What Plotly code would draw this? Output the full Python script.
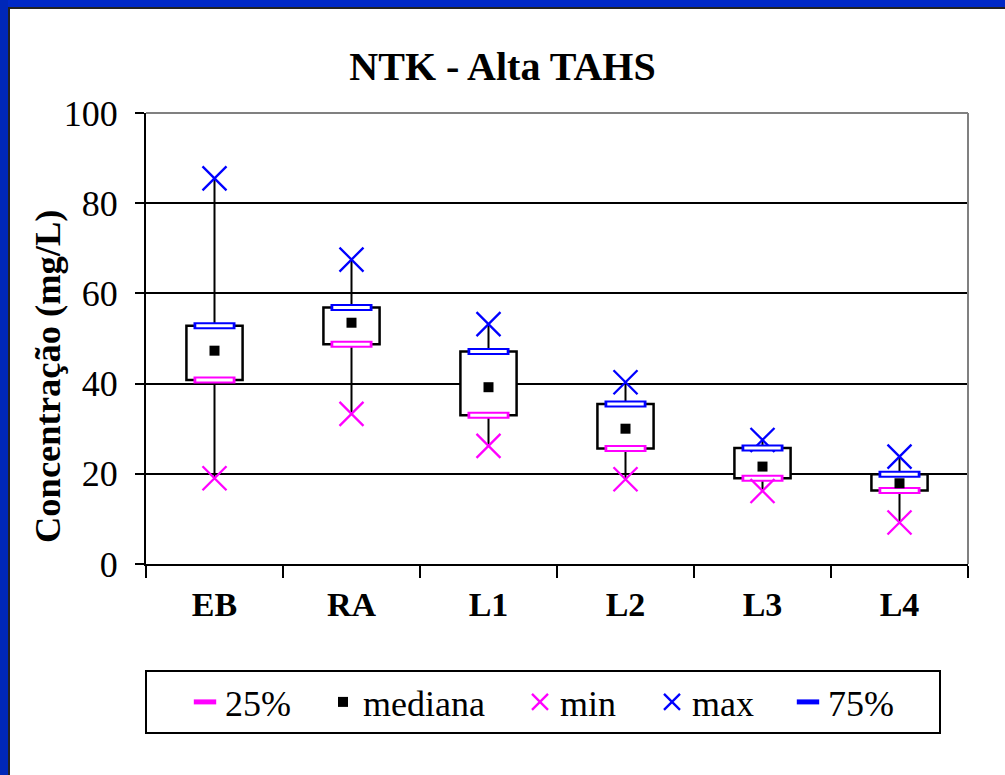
import plotly.graph_objects as go

# Nitrogen (NTK) summary statistics per sampling point
categories = ["EB", "RA", "L1", "L2", "L3", "L4"]
v_min = [19.0, 33.3, 26.2, 18.8, 16.2, 9.2]
q25 = [40.8, 48.7, 33.0, 25.6, 19.0, 16.3]
median = [47.3, 53.5, 39.2, 30.0, 21.6, 17.9]
q75 = [52.8, 56.9, 47.1, 35.5, 25.7, 19.9]
v_max = [85.5, 67.5, 53.2, 40.3, 27.5, 23.8]
y_ticks = [0, 20, 40, 60, 80, 100]

W_PX, H_PX = 1005, 775
L, R, T, B = 146, 37, 113, 211
PW, PH = W_PX - L - R, H_PX - T - B


def px_x(px):
    return (px - L) / PW


def px_y(py):
    return (H_PX - B - py) / PH


SERIF = "Liberation Serif"
BLUE = "#0000FF"
MAGENTA = "#FF00FF"

fig = go.Figure()

# Boxes spanning the interquartile range
fig.add_trace(go.Bar(
    x=categories, y=[b - a for a, b in zip(q25, q75)], base=q25,
    width=0.41, marker=dict(color="white", line=dict(color="black", width=2.5)),
    showlegend=False, hoverinfo="skip"))

# Whiskers: min -> q25 and q75 -> max
wx, wy = [], []
for c, lo, a, b, hi in zip(categories, v_min, q25, q75, v_max):
    wx += [c, c, None, c, c, None]
    wy += [lo, a, None, b, hi, None]
fig.add_trace(go.Scatter(x=wx, y=wy, mode="lines", line=dict(color="black", width=2),
                         showlegend=False, hoverinfo="skip"))


# Percentile markers drawn as hollow bars
def hollow_bar(yvals, color, name, lw):
    fig.add_trace(go.Scatter(
        x=categories, y=yvals, mode="markers", name=name, legendwidth=lw,
        marker=dict(symbol="line-ew", size=30, color=color,
                    line=dict(color=color, width=7))))
    fig.add_trace(go.Scatter(
        x=categories, y=yvals, mode="markers", showlegend=False, hoverinfo="skip",
        marker=dict(symbol="line-ew", size=26, color="white",
                    line=dict(color="white", width=3))))


hollow_bar(q25, MAGENTA, "25%", 93)

fig.add_trace(go.Scatter(
    x=categories, y=median, mode="markers", name="mediana", legendwidth=152,
    marker=dict(symbol="square", size=10, color="black")))

fig.add_trace(go.Scatter(
    x=categories, y=v_min, mode="markers", name="min", legendwidth=87,
    marker=dict(symbol="x-thin-open", size=24, color=MAGENTA,
                line=dict(color=MAGENTA, width=2.3))))

fig.add_trace(go.Scatter(
    x=categories, y=v_max, mode="markers", name="max", legendwidth=91,
    marker=dict(symbol="x-thin-open", size=24, color=BLUE,
                line=dict(color=BLUE, width=2.3))))

hollow_bar(q75, BLUE, "75%", 70)

shapes = [
    # gray frame on top and right of the plot area
    dict(type="line", xref="paper", yref="paper", x0=0, x1=1, y0=1, y1=1,
         line=dict(color="#808080", width=2), layer="above"),
    dict(type="line", xref="paper", yref="paper", x0=1, x1=1, y0=0, y1=1,
         line=dict(color="#808080", width=2), layer="above"),
    # legend frame
    dict(type="rect", xref="paper", yref="paper",
         x0=px_x(146), x1=px_x(940), y0=px_y(733), y1=px_y(671),
         line=dict(color="black", width=2), fillcolor="rgba(0,0,0,0)"),
    # slide border: blue strips with thin dark edge
    dict(type="rect", xref="paper", yref="paper",
         x0=px_x(0), x1=px_x(W_PX), y0=px_y(7), y1=px_y(-2),
         line=dict(width=0), fillcolor="#0029C6"),
    dict(type="rect", xref="paper", yref="paper",
         x0=px_x(-2), x1=px_x(8), y0=px_y(H_PX + 2), y1=px_y(0),
         line=dict(width=0), fillcolor="#0027B8"),
    dict(type="line", xref="paper", yref="paper",
         x0=px_x(8), x1=px_x(W_PX), y0=px_y(8), y1=px_y(8),
         line=dict(color="#222222", width=2)),
    dict(type="line", xref="paper", yref="paper",
         x0=px_x(9), x1=px_x(9), y0=px_y(8), y1=px_y(H_PX),
         line=dict(color="#222222", width=2)),
]

fig.update_layout(
    width=W_PX, height=H_PX,
    margin=dict(l=L, r=R, t=T, b=B, pad=0),
    paper_bgcolor="white", plot_bgcolor="white",
    font=dict(family=SERIF, color="black"),
    title=dict(text="<b>NTK - Alta TAHS</b>", font=dict(size=40, family=SERIF),
               x=0.5, xref="container", xanchor="center",
               y=1 - 66 / H_PX, yref="container", yanchor="middle"),
    xaxis=dict(type="category", tickson="boundaries", ticks="outside", ticklen=12,
               tickwidth=2, tickcolor="black", showline=True, linecolor="black",
               linewidth=2, showgrid=False,
               tickfont=dict(size=34, family=SERIF, weight="bold"), ticklabelstandoff=9),
    yaxis=dict(range=[0, 100], tickvals=y_ticks, ticks="outside", ticklen=9,
               tickwidth=2, tickcolor="black", showline=True, linecolor="black",
               linewidth=2, showgrid=True, gridcolor="black", gridwidth=2,
               zeroline=False, tickfont=dict(size=36, family=SERIF),
               ticklabelstandoff=10),
    showlegend=True,
    legend=dict(orientation="h", x=px_x(185), xanchor="left",
                y=px_y(702), yanchor="middle", bgcolor="rgba(0,0,0,0)",
                borderwidth=0, font=dict(size=36, family=SERIF),
                itemsizing="trace"),
    annotations=[dict(text="<b>Concentração (mg/L)</b>", xref="paper", yref="paper",
                      x=px_x(47), y=px_y(376), xanchor="center", yanchor="middle",
                      textangle=-90, showarrow=False,
                      font=dict(size=36.5, family=SERIF))],
    shapes=shapes,
    bargap=0.59,
)

fig.write_html("out.html")
